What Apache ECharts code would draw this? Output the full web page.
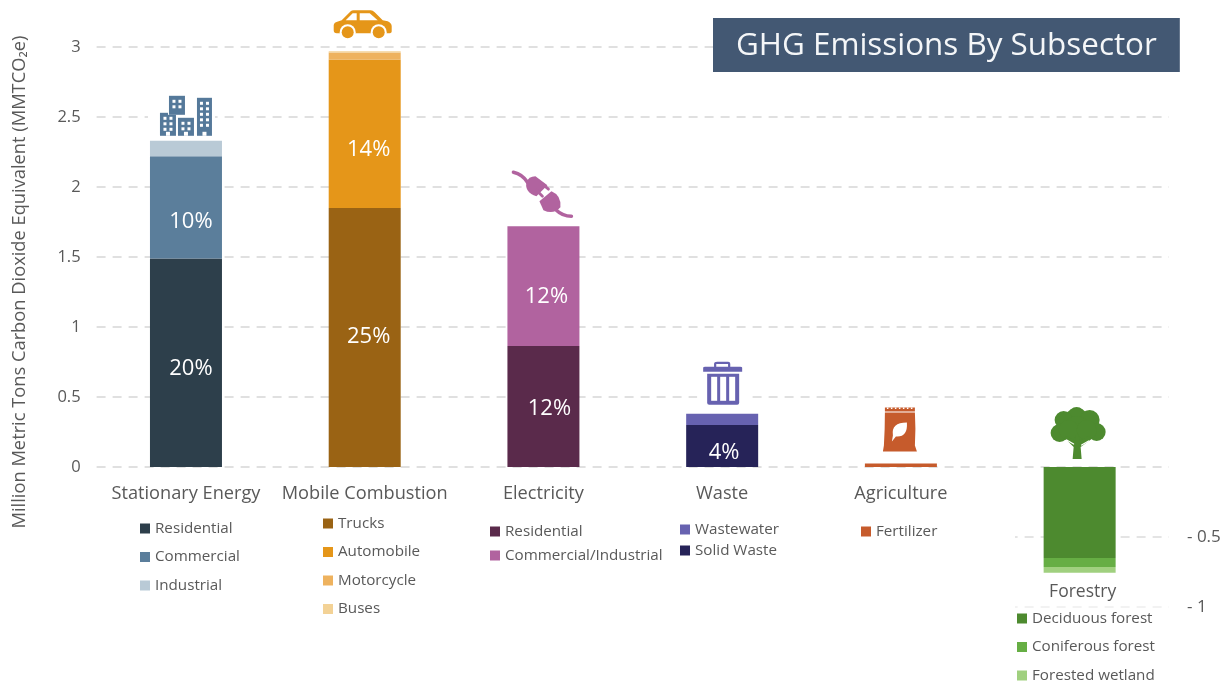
<!DOCTYPE html>
<html>
<head>
<meta charset="utf-8">
<title>GHG Emissions By Subsector</title>
<script src="https://cdn.jsdelivr.net/npm/echarts@6/dist/echarts.min.js"></script>
<style>
  html, body { margin: 0; padding: 0; background: #fff; }
  #chart { width: 1231px; height: 685px; }
</style>
</head>
<body>
<div id="chart"></div>
<script>
const categories = ['Stationary Energy', 'Mobile Combustion', 'Electricity', 'Waste', 'Agriculture', 'Forestry'];

// trailing space keeps the second "Residential" apart in the legend lookup
const stationaryNames = ['Residential', 'Commercial', 'Industrial'];
const stationaryValues = [1.49, 0.73, 0.11];
const stationaryPct = ['20%', '10%', ''];

const mobileNames = ['Trucks', 'Automobile', 'Motorcycle', 'Buses'];
const mobileValues = [1.85, 1.06, 0.05, 0.01];
const mobilePct = ['25%', '14%', '', ''];

const electricityNames = ['Residential ', 'Commercial/Industrial'];
const electricityValues = [0.865, 0.855];
const electricityPct = ['12%', '12%'];

const wasteNames = ['Solid Waste', 'Wastewater'];
const wasteValues = [0.3, 0.08];
const wastePct = ['4%', ''];

const agricultureNames = ['Fertilizer'];
const agricultureValues = [0.025];
const agriculturePct = [''];

const forestryNames = ['Deciduous forest', 'Coniferous forest', 'Forested wetland'];
const forestryValues = [-0.65, -0.065, -0.04];
const forestryPct = ['', '', ''];

const stationaryColors = ['#2d3f4b', '#5b7e9b', '#b9cad6'];
const mobileColors = ['#9a6314', '#e59619', '#eeb25e', '#f3d296'];
const electricityColors = ['#5a2a4b', '#b1639f'];
const wasteColors = ['#262358', '#6762b0'];
const agricultureColors = ['#c65b2c'];
const forestryColors = ['#4d8a2f', '#66ae44', '#a0d07f'];

// the % labels are not quite centred in their segments
const stationaryOffsets = [[5, 6], [5, 14]];
const mobileOffsets = [[4, -1], [4, 16]];
const electricityOffsets = [[6, 2], [3, 11]];
const wasteOffsets = [[2, 7]];

const groups = [
    { names: stationaryNames, values: stationaryValues, pct: stationaryPct, colors: stationaryColors, offsets: stationaryOffsets },
    { names: mobileNames, values: mobileValues, pct: mobilePct, colors: mobileColors, offsets: mobileOffsets },
    { names: electricityNames, values: electricityValues, pct: electricityPct, colors: electricityColors, offsets: electricityOffsets },
    { names: wasteNames, values: wasteValues, pct: wastePct, colors: wasteColors, offsets: wasteOffsets },
    { names: agricultureNames, values: agricultureValues, pct: agriculturePct, colors: agricultureColors, offsets: [] },
    { names: forestryNames, values: forestryValues, pct: forestryPct, colors: forestryColors, offsets: [] }
];

const font = '"Open Sans", sans-serif';
const gray = '#595959';

let barSeries = [];
groups.forEach((g, k) => {
    g.names.forEach((name, i) => {
        barSeries.push({
            name: name,
            type: 'bar',
            stack: 'total',
            barWidth: 72,
            z: 3,
            itemStyle: { color: g.colors[i] },
            label: {
                show: g.pct[i] !== '',
                position: 'inside',
                offset: g.offsets[i] || [0, 0],
                formatter: g.pct[i],
                color: '#fff',
                fontFamily: font,
                fontSize: 22
            },
            data: categories.map((c, idx) => (idx === k ? g.values[i] : null))
        });
    });
});

// icons sit on top of each positive stack
const iconTops = groups.map(g => g.values.filter(v => v > 0).reduce((a, b) => a + b, 0));

function p(d, color) {
    return { type: 'path', shape: { pathData: d }, style: { fill: color } };
}
function line(d, color, w) {
    return { type: 'path', shape: { pathData: d }, style: { fill: 'none', stroke: color, lineWidth: w, lineCap: 'round' } };
}
function box(x, y, w, h, color) {
    return { type: 'rect', shape: { x: x, y: y, width: w, height: h }, style: { fill: color } };
}
function dot(cx, cy, r, color) {
    return { type: 'circle', shape: { cx: cx, cy: cy, r: r }, style: { fill: color } };
}

function buildingIcon() {
    const c = '#55799a';
    let out = [box(-38, -26, 67, 4, '#fff')];
    // x, top, width, height, rows, door
    [[-26, -28, 16, 23, 3, true], [-17, -45, 16, 19, 2, false], [-8, -23, 16, 18, 2, true], [11, -43, 15, 38, 5, true]].forEach(b => {
        out.push(box(b[0] - 1, b[1] - 1, b[2] + 2, b[3] + 1, '#fff'));
        out.push(box(b[0], b[1], b[2], b[3], c));
        const mid = b[0] + b[2] / 2;
        for (let j = 0; j < b[4]; j++) {
            out.push(box(mid - 4.5, b[1] + 4 + j * 5.5, 3, 3, '#fff'));
            out.push(box(mid + 1.5, b[1] + 4 + j * 5.5, 3, 3, '#fff'));
        }
        if (b[5]) {
            out.push(box(mid - 2, -9, 4, 4, '#fff'));
        }
    });
    return out;
}

function carIcon() {
    const c = '#e59619';
    return [
        p('M-31 -26 Q-31 -29 -26 -30 L-23 -31 L-14 -40 Q-13 -41 -11 -41 L6 -41 Q8 -41 10 -39 L18 -31 L23 -30 Q27 -28 27 -25 L27 -20 Q27 -18 24 -18 L-28 -18 Q-31 -18 -31 -21 Z', c),
        p('M-19 -31 L-12 -38 L-8 -38 L-8 -31 Z', '#fff'),
        p('M-5 -38 L5 -38 L13 -31 L-5 -31 Z', '#fff'),
        dot(-17, -19, 8, '#fff'), dot(-17, -19, 6, c),
        dot(14, -19, 8, '#fff'), dot(14, -19, 6, c)
    ];
}

function plugIcon() {
    const c = '#b1639f';
    return [
        line('M-30 -54 Q-21 -52 -16 -44', c, 3.5),
        p('M-17 -44 Q-15 -50 -8 -50 L4 -41 L-7 -30 Q-19 -34 -17 -44 Z', c),
        line('M-1 -42 L5 -37', c, 2.8),
        line('M-7 -36 L-1 -30', c, 2.8),
        p('M-4 -25 L8 -35 Q18 -31 17 -19 Q10 -11 0 -16 Z', c),
        line('M13 -16 Q19 -10 28 -10', c, 3.5)
    ];
}

function trashIcon() {
    const c = '#6762b0';
    return [
        box(-25, -19, 50, 4, '#fff'),
        line('M-7 -47 L-7 -50 Q-7 -51 -5 -51 L6 -51 Q7 -51 7 -50 L7 -47', c, 2.2),
        p('M-19 -46 Q-19 -47 -17 -47 L18 -47 Q20 -47 20 -46 L20 -42 L-19 -42 Z', c),
        p('M-15 -40 L17 -40 L17 -11 Q17 -9 15 -9 L-13 -9 Q-15 -9 -15 -11 Z', c),
        box(-11, -37, 6, 24, '#fff'), box(-2, -37, 6, 24, '#fff'), box(7, -37, 6, 24, '#fff')
    ];
}

function bagIcon() {
    const c = '#c65b2c';
    let out = [
        box(-16, -56, 30, 4, c),
        p('M-16 -51 L14 -51 Q15 -35 14 -18 L16 -12 L-18 -12 L-17 -18 Q-16 -35 -16 -51 Z', c),
        p('M-8 -28 Q-10 -41 6 -41 Q7 -26 -5 -27 L-9 -22 Z', '#fff')
    ];
    for (let x = -14; x < 14; x += 4) {
        out.push(box(x, -56, 1.5, 1.5, '#fff'));
    }
    return out;
}

function treeIcon() {
    const c = '#4d8a2f';
    return [
        dot(-3, -52, 8, c), dot(-3, -47, 12, c), dot(-16, -47, 9, c), dot(10, -47, 10, c),
        dot(-20, -34, 9, c), dot(17, -35, 9, c), dot(-3, -38, 13, c), dot(-11, -37, 10, c), dot(7, -37, 10, c),
        p('M-7 -8 L2 -8 L1 -20 L12 -28 L9 -31 L0 -26 L-1 -32 L-4 -32 L-4 -26 L-13 -31 L-15 -29 L-6 -20 Z', c),
        line('M-13 -27 L-6 -23', '#fff', 1.3), line('M9 -26 L2 -22', '#fff', 1.3)
    ];
}

const iconMakers = [buildingIcon, carIcon, plugIcon, trashIcon, bagIcon, treeIcon];

function legendFor(order, left, top, gap) {
    return {
        orient: 'vertical',
        left: left,
        top: top,
        itemWidth: 10,
        itemHeight: 10,
        itemGap: gap,
        icon: 'rect',
        selectedMode: false,
        padding: 0,
        data: order,
        formatter: n => n.trim(),
        textStyle: { color: gray, fontFamily: font, fontSize: 15.2 }
    };
}

let myChart = echarts.init(document.getElementById('chart'));

let option = {
    animation: false,
    textStyle: { fontFamily: font },
    title: {
        text: 'GHG Emissions By Subsector',
        left: 713,
        top: 18,
        padding: [10, 23, 8, 23],
        backgroundColor: '#435873',
        textStyle: { color: '#f4f6f8', fontFamily: font, fontSize: 31.4, fontWeight: 'normal', lineHeight: 36 }
    },
    legend: [
        legendFor(stationaryNames, 140, 521, 13.5),
        legendFor(mobileNames, 323, 516, 13.5),
        legendFor(electricityNames, 490, 524, 9),
        legendFor([wasteNames[1], wasteNames[0]], 680, 522, 6),
        legendFor(agricultureNames, 861, 524, 10),
        legendFor(forestryNames, 1017, 611, 13.5)
    ],
    grid: { left: 96.6, right: 62, top: 47, bottom: 78, outerBoundsMode: 'none' },
    xAxis: {
        type: 'category',
        data: categories,
        z: 4,
        // labels hang off the zero line, which is 140px above the grid bottom
        offset: -140,
        axisLine: { show: false, onZero: false },
        axisTick: { show: false },
        axisLabel: {
            interval: 0,
            margin: 18,
            color: gray,
            fontFamily: font,
            fontSize: 18.2,
            formatter: v => (v === 'Forestry' ? '{low|' + v + '}' : v),
            rich: {
                low: { padding: [98, 0, 0, 6], color: gray, fontFamily: font, fontSize: 17.5 }
            }
        }
    },
    yAxis: [
        {
            type: 'value',
            min: -1,
            max: 3,
            interval: 0.5,
            name: 'Million Metric Tons Carbon Dioxide Equivalent (MMTCO\u2082e)',
            nameLocation: 'middle',
            nameGap: 68,
            nameTextStyle: { color: gray, fontFamily: font, fontSize: 18.3, padding: [0, 0, 0, 90] },
            axisLine: { show: false },
            axisTick: { show: false },
            axisLabel: {
                margin: 16,
                color: gray,
                fontFamily: font,
                fontSize: 16.5,
                formatter: v => (v >= 0 ? String(v) : '')
            },
            splitLine: {
                show: true,
                lineStyle: {
                    color: ['#eeeeee', '#dcdcdc', '#d6d6d6', '#d6d6d6', '#d6d6d6', '#d6d6d6', '#d6d6d6', '#d6d6d6', '#d6d6d6'],
                    type: [9, 7],
                    width: 1.5
                }
            }
        },
        {
            type: 'value',
            min: -1,
            max: 3,
            interval: 0.5,
            position: 'right',
            axisLine: { show: false },
            axisTick: { show: false },
            splitLine: { show: false },
            axisLabel: {
                margin: 18,
                color: gray,
                fontFamily: font,
                fontSize: 17,
                formatter: v => (v < 0 ? '- ' + Math.abs(v) : '')
            }
        }
    ],
    graphic: [
        // the sub-zero grid lines only show on the Forestry side
        { type: 'rect', z: 1, shape: { x: 90, y: 480, width: 925, height: 140 }, style: { fill: '#fff' } }
    ],
    series: barSeries.concat([
        {
            name: 'icons',
            type: 'custom',
            z: 5,
            silent: true,
            data: iconTops.map((t, i) => [i, t]),
            renderItem: function (params, api) {
                const pos = api.coord([api.value(0), api.value(1)]);
                return {
                    type: 'group',
                    x: pos[0],
                    y: pos[1],
                    children: iconMakers[params.dataIndex]()
                };
            }
        }
    ])
};

myChart.setOption(option);
</script>
</body>
</html>
